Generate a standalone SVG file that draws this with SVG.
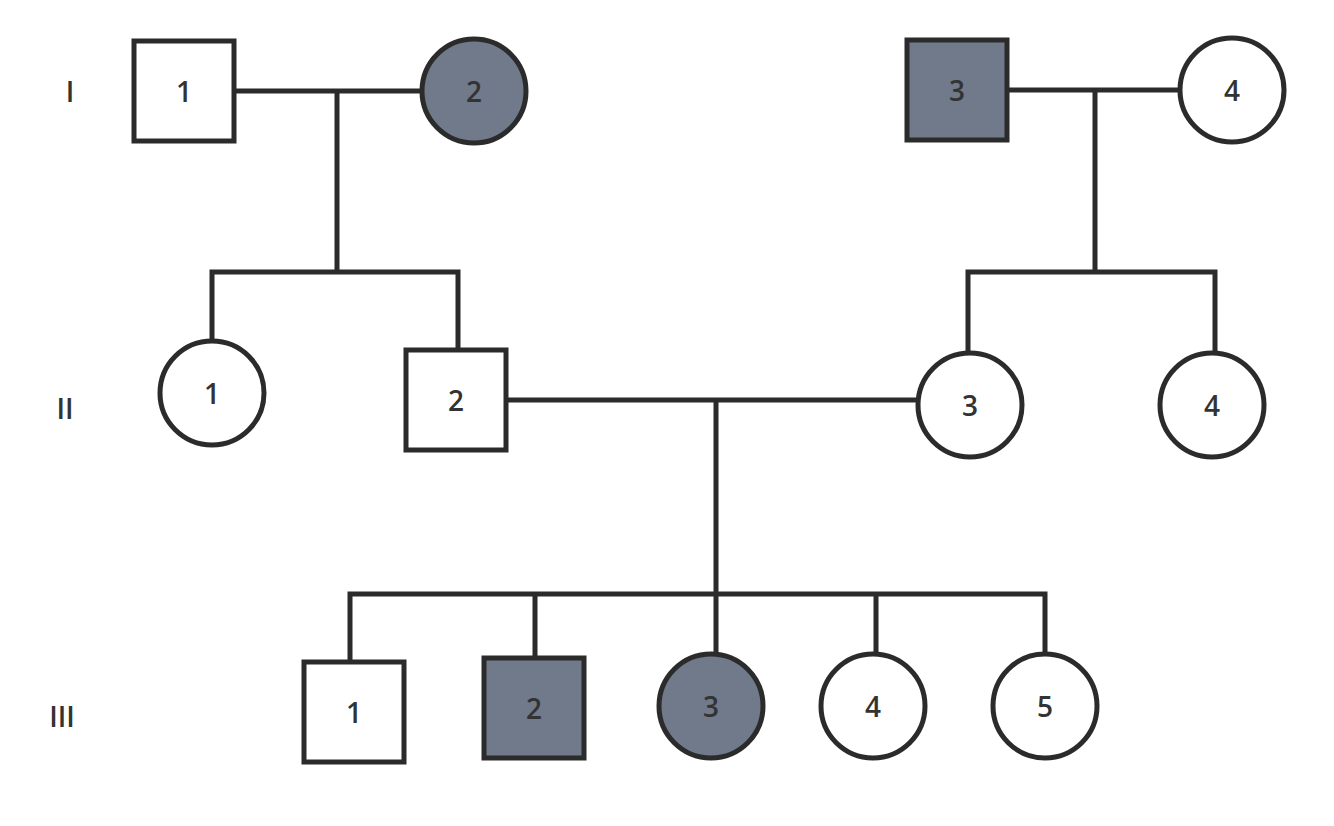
<svg xmlns="http://www.w3.org/2000/svg" width="1334" height="826" viewBox="0 0 1334 826">
<style>
.s{fill:#fff;stroke:#2b2b2b;stroke-width:5}
.a{fill:#707a8a;stroke:#2b2b2b;stroke-width:5}
.c{fill:none;stroke:#2b2b2b;stroke-width:5;stroke-linecap:square}
text{font-family:"Open Sans","Liberation Sans",sans-serif;font-size:28px;font-weight:600;fill:#333;text-anchor:middle;dominant-baseline:central}
</style>
<rect width="1334" height="826" fill="#fff"/>
<g id="connectors" class="c">
<path d="M235 91H422M337 91V272M212 272H458M212 272V342M458 272V350"/>
<path d="M1008 90H1180M1095 90V272M968 272H1215M968 272V353M1215 272V353"/>
<path d="M507 400H918M716 400V594M350 594H1045M350 594V662M535 594V658M716 594V655M876 594V655M1045 594V655"/>
</g>
<g id="labels">
<text x="70" y="91">I</text>
<text x="65" y="408">II</text>
<text x="62" y="716">III</text>
</g>
<g id="I-1"><rect class="s" x="134" y="41" width="100" height="100"/><text x="184" y="91">1</text></g>
<g id="I-2"><circle class="a" cx="474" cy="91" r="52"/><text x="474" y="91">2</text></g>
<g id="I-3"><rect class="a" x="907" y="40" width="100" height="100"/><text x="957" y="90">3</text></g>
<g id="I-4"><circle class="s" cx="1232" cy="90" r="52"/><text x="1232" y="90">4</text></g>
<g id="II-1"><circle class="s" cx="212" cy="393" r="52"/><text x="212" y="393">1</text></g>
<g id="II-2"><rect class="s" x="406" y="350" width="100" height="100"/><text x="456" y="400">2</text></g>
<g id="II-3"><circle class="s" cx="970" cy="405" r="52"/><text x="970" y="405">3</text></g>
<g id="II-4"><circle class="s" cx="1212" cy="405" r="52"/><text x="1212" y="405">4</text></g>
<g id="III-1"><rect class="s" x="304" y="662" width="100" height="100"/><text x="354" y="712">1</text></g>
<g id="III-2"><rect class="a" x="484" y="658" width="100" height="100"/><text x="534" y="708">2</text></g>
<g id="III-3"><circle class="a" cx="711" cy="706" r="52"/><text x="711" y="706">3</text></g>
<g id="III-4"><circle class="s" cx="873" cy="706" r="52"/><text x="873" y="706">4</text></g>
<g id="III-5"><circle class="s" cx="1045" cy="706" r="52"/><text x="1045" y="706">5</text></g>
</svg>
